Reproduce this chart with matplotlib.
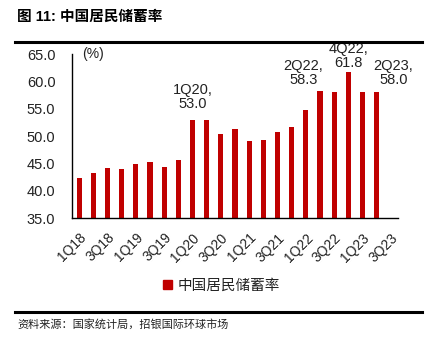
import matplotlib.pyplot as plt
from matplotlib.lines import Line2D
from matplotlib.patches import Patch
import numpy as np

plt.rcParams['font.family'] = ['Liberation Sans', 'Noto Sans CJK SC', 'DejaVu Sans']

# ── data ──────────────────────────────────────────────────────────────────────
quarters = ['1Q18', '2Q18', '3Q18', '4Q18', '1Q19', '2Q19', '3Q19', '4Q19',
            '1Q20', '2Q20', '3Q20', '4Q20', '1Q21', '2Q21', '3Q21', '4Q21',
            '1Q22', '2Q22', '3Q22', '4Q22', '1Q23', '2Q23', '3Q23']
saving_rate = [42.3, 43.3, 44.1, 43.9, 44.9, 45.2, 44.4, 45.6,
               53.0, 52.9, 50.3, 51.3, 49.1, 49.3, 50.8, 51.7,
               54.7, 58.3, 58.1, 61.8, 58.0, 58.0, np.nan]
highlight = ['1Q20', '2Q22', '4Q22', '2Q23']
# text offset (points) for each highlighted label
label_offset = {'1Q20': (0, 6), '2Q22': (-12, 2.5), '4Q22': (0, 1), '2Q23': (12, 4)}

bar_color = '#C00000'

fig = plt.figure(figsize=(4.34, 3.44), dpi=100)
ax = fig.add_axes([0.166, 0.366, 0.751, 0.477])

x = np.arange(len(quarters))
ax.bar(x, saving_rate, width=0.36, color=bar_color, label='中国居民储蓄率', zorder=2)

for q in highlight:
    i = quarters.index(q)
    v = saving_rate[i]
    ax.annotate(f'{q},\n{v:.1f}', xy=(i, v), xytext=label_offset[q],
                textcoords='offset points', ha='center', va='bottom',
                fontsize=10.5, color='#222222', linespacing=1.0)

ax.set_xlim(-0.5, len(quarters) - 0.5)
ax.set_ylim(35, 65)
ax.set_yticks(np.arange(35, 65.1, 5))
ax.set_yticklabels([f'{t:.1f}' for t in np.arange(35, 65.1, 5)], fontsize=10.5)
ax.set_xticks(x[::2])
ax.set_xticklabels(quarters[::2], rotation=45, ha='right', rotation_mode='anchor',
                   fontsize=10)
ax.tick_params(axis='both', length=0, colors='#222222')
ax.tick_params(axis='y', pad=12)
ax.tick_params(axis='x', pad=9)
for s in ['top', 'right']:
    ax.spines[s].set_visible(False)
for s in ['left', 'bottom']:
    ax.spines[s].set_linewidth(1.0)
    ax.spines[s].set_color('black')

ax.text(0.03, 1.0, '(%)', transform=ax.transAxes, fontsize=10, va='center',
        color='#222222')

# legend
fig.legend(handles=[Patch(color=bar_color, label='中国居民储蓄率')],
           loc='center', bbox_to_anchor=(0.51, 0.169), frameon=False,
           fontsize=10.5, handlelength=0.6, handleheight=0.6, handletextpad=0.4,
           labelcolor='#222222')

# title, rules, source
fig.text(0.04, 0.952, '图 11: 中国居民储蓄率', fontsize=10.5, fontweight='bold',
         va='center', family=['Liberation Sans', 'Noto Sans CJK SC'])
fig.add_artist(Line2D([0.035, 0.973], [0.878, 0.878], color='black', lw=2.2))
fig.add_artist(Line2D([0.035, 0.973], [0.093, 0.093], color='black', lw=2.2))
fig.text(0.04, 0.058, '资料来源：国家统计局，招银国际环球市场', fontsize=8,
         va='center', family=['Noto Sans CJK SC'], color='#222222')

fig.savefig('out.png', dpi=100)
